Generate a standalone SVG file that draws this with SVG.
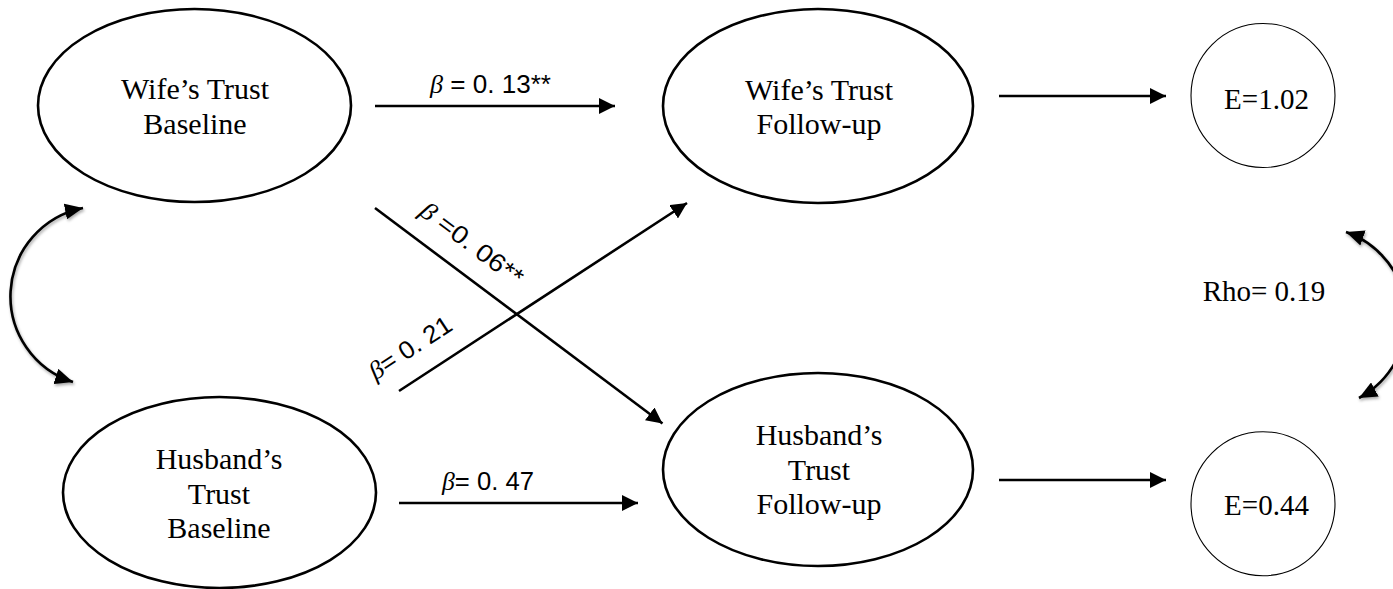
<svg xmlns="http://www.w3.org/2000/svg" width="1393" height="589" viewBox="0 0 1393 589">
<style>
.node{fill:#fff;stroke:#000;stroke-width:2.6}
.err{fill:#fff;stroke:#000;stroke-width:1.1}
.nt{font-family:"Liberation Serif","Times New Roman",serif;font-size:30px;fill:#000;text-anchor:middle}
.et{font-family:"Liberation Serif","Times New Roman",serif;font-size:29px;fill:#000;text-anchor:middle}
.lbl{font-family:"Liberation Sans",Arial,sans-serif;font-size:25px;fill:#000}
.beta{font-family:"Liberation Serif","Times New Roman",serif;font-style:italic}
.edge{fill:none;stroke:#000;stroke-width:2.6}
.curve{fill:none;stroke:#000;stroke-width:2.6}
</style>
<defs>
<marker id="ah" markerUnits="userSpaceOnUse" viewBox="0 0 16 16" markerWidth="16" markerHeight="16" refX="16" refY="8" orient="auto-start-reverse">
<path d="M0,0 L16,8 L0,16 z" fill="#000"/>
</marker>
<marker id="ahc" markerUnits="userSpaceOnUse" viewBox="0 0 18 16" markerWidth="18" markerHeight="16" refX="18" refY="8" orient="auto-start-reverse">
<path d="M0,0 L18,8 L0,16 z" fill="#000"/>
</marker>
<filter id="sh" x="-30%" y="-30%" width="160%" height="160%">
<feDropShadow dx="1" dy="2" stdDeviation="1.5" flood-color="#000" flood-opacity="0.35"/>
</filter>
</defs>
<rect width="1393" height="589" fill="#fff"/>

<g id="connectors">
<line class="edge" x1="375" y1="106" x2="615" y2="106" marker-end="url(#ah)"/>
<line class="edge" x1="399" y1="503" x2="638" y2="503" marker-end="url(#ah)"/>
<line class="edge" x1="375" y1="208" x2="662.5" y2="423.5" marker-end="url(#ah)"/>
<line class="edge" x1="399" y1="391" x2="687" y2="203" marker-end="url(#ah)"/>
<line class="edge" x1="999" y1="96" x2="1166" y2="96" marker-end="url(#ah)"/>
<line class="edge" x1="999" y1="480" x2="1166" y2="480" marker-end="url(#ah)"/>
<path class="curve" filter="url(#sh)" d="M83,208 A90,90 0 0 0 73,382" marker-start="url(#ahc)" marker-end="url(#ahc)"/>
<path class="curve" filter="url(#sh)" d="M1346,232 A91,91 0 0 1 1359,398" marker-start="url(#ahc)" marker-end="url(#ahc)"/>
<text class="lbl" x="430" y="93" textLength="121" lengthAdjust="spacingAndGlyphs"><tspan class="beta">β</tspan> = 0. 13**</text>
<text class="lbl" x="442" y="490" textLength="92" lengthAdjust="spacingAndGlyphs"><tspan class="beta">β</tspan>= 0. 47</text>
<text class="lbl" transform="translate(418,214) rotate(36.8)" textLength="122" lengthAdjust="spacingAndGlyphs"><tspan class="beta">β</tspan> =0. 06**</text>
<text class="lbl" transform="translate(375.5,380.5) rotate(-33.2)" textLength="94" lengthAdjust="spacingAndGlyphs"><tspan class="beta">β</tspan>= 0. 21</text>
<text class="et" x="1264" y="301">Rho= 0.19</text>
</g>

<g id="wife-baseline">
<ellipse class="node" cx="194.5" cy="105.5" rx="156.5" ry="96.5"/>
<text class="nt" x="195" y="99">Wife’s Trust</text>
<text class="nt" x="195" y="134">Baseline</text>
</g>

<g id="husband-baseline">
<ellipse class="node" cx="219.5" cy="492.5" rx="156.5" ry="95.5"/>
<text class="nt" x="219" y="469">Husband’s</text>
<text class="nt" x="219" y="504">Trust</text>
<text class="nt" x="219" y="538">Baseline</text>
</g>

<g id="wife-followup">
<ellipse class="node" cx="818" cy="106" rx="155" ry="97"/>
<text class="nt" x="819" y="99.5">Wife’s Trust</text>
<text class="nt" x="819" y="134">Follow-up</text>
</g>

<g id="husband-followup">
<ellipse class="node" cx="818" cy="469.5" rx="155" ry="96.5"/>
<text class="nt" x="819" y="445">Husband’s</text>
<text class="nt" x="819" y="480">Trust</text>
<text class="nt" x="819" y="514">Follow-up</text>
</g>

<g id="error-wife">
<circle class="err" cx="1263" cy="95.5" r="72"/>
<text class="et" x="1266.5" y="109">E=1.02</text>
</g>

<g id="error-husband">
<circle class="err" cx="1263" cy="503.7" r="72"/>
<text class="et" x="1266.5" y="514.7">E=0.44</text>
</g>
</svg>
